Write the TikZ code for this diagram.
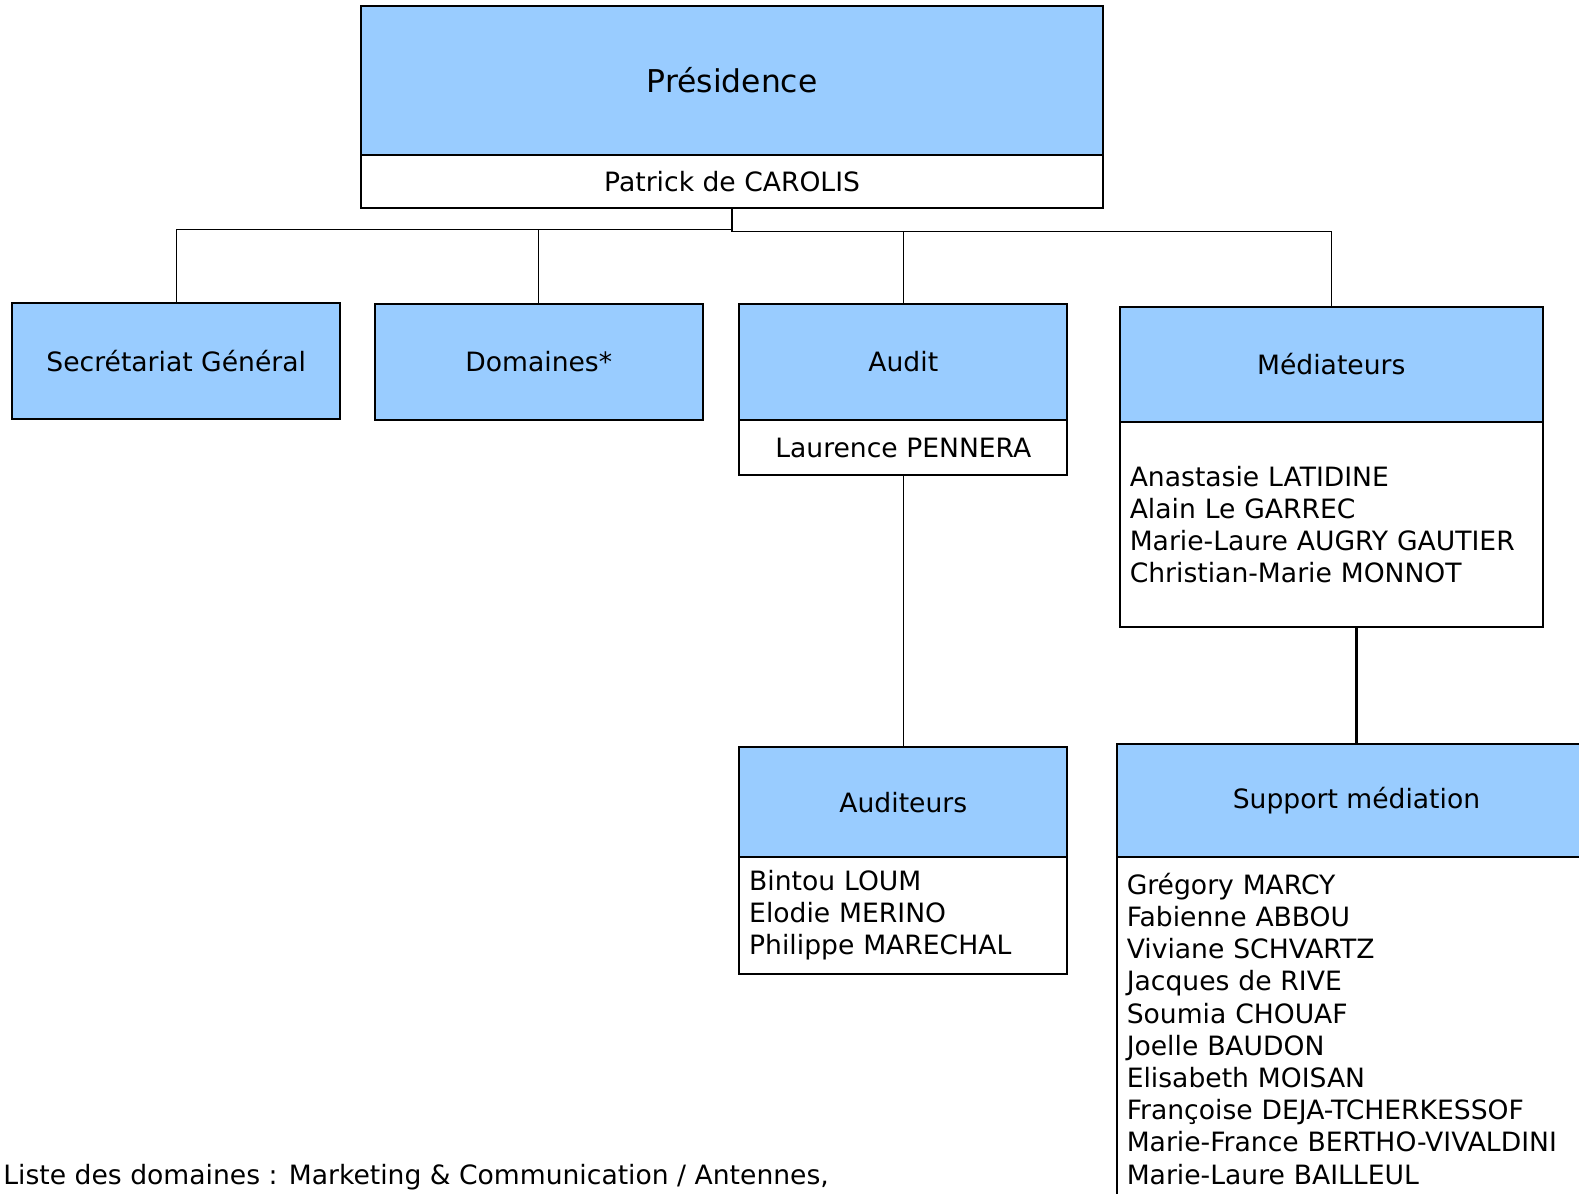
\documentclass[tikz,border=0pt]{standalone}
\usepackage{fontspec}
\setmainfont{DejaVu Sans}
\usepackage{tikz}
\usetikzlibrary{positioning}
\definecolor{unitblue}{HTML}{99CCFF}
\tikzset{
  unit/.style={draw,line width=1pt,fill=unitblue,outer sep=0pt,inner sep=5pt},
  names/.style={draw,line width=1pt,fill=white,outer sep=0pt,inner sep=5pt},
  link/.style={line width=0.6pt},
}

\begin{document}
\begin{tikzpicture}[x=0.5035pt,y=-0.5035pt,font=\fontsize{13.3}{16.1}\selectfont]
        \useasboundingbox (0,0) rectangle (1568,1185);
        \clip (0,0) rectangle (1568,1185);

        % top
        \node[unit,minimum width=370.6pt,minimum height=74.5pt,font=\fontsize{15.7}{19}\selectfont] (P) at (727,80) {Présidence};
        \node[names,minimum width=370.6pt,minimum height=26.7pt,below=0pt of P] (PN) {Patrick de CAROLIS};

        % second row
        \node[unit,minimum width=164.1pt,minimum height=57.9pt] (SG) at (175,358.5) {Secrétariat Général};
        \node[unit,minimum width=164.1pt,minimum height=57.9pt] (D) at (535,359.5) {Domaines*};
        \node[unit,minimum width=164.1pt,minimum height=57.9pt] (A) at (897,359.5) {Audit};
        \node[names,minimum width=164.1pt,minimum height=27.7pt,below=0pt of A] (AN) {Laurence PENNERA};
        \node[unit,minimum width=211.5pt,minimum height=57.4pt] (M) at (1322,362) {Médiateurs};
        \node[names,minimum width=211.5pt,minimum height=102.7pt,text width=201.5pt,align=left,below=0pt of M] (MN)
          {Anastasie LATIDINE\\Alain Le GARREC\\Marie-Laure AUGRY GAUTIER\\Christian-Marie MONNOT};

        % third row
        \node[unit,minimum width=164.1pt,minimum height=54.9pt] (AU) at (897,796.5) {Auditeurs};
        \node[names,minimum width=164.1pt,minimum height=58.4pt,text width=154.1pt,align=left,below=0pt of AU] (AUN)
          {Bintou LOUM\\Elodie MERINO\\Philippe MARECHAL};
        \node[unit,minimum width=239.7pt,minimum height=56.4pt] (SM) at (1347,795) {Support médiation};
        \node[names,minimum width=239.7pt,minimum height=171.7pt,text width=229.7pt,align=left,below=0pt of SM] (SMN)
          {Grégory MARCY\\Fabienne ABBOU\\Viviane SCHVARTZ\\Jacques de RIVE\\Soumia CHOUAF\\Joelle BAUDON\\Elisabeth MOISAN\\Françoise DEJA-TCHERKESSOF\\Marie-France BERTHO-VIVALDINI\\Marie-Laure BAILLEUL};

        % footnote
        \node[anchor=base west,inner sep=0pt] (L) at (3,1176) {Liste des domaines : Marketing \& Communication / Antennes,};

        % links
        \coordinate (busL) at (727,228);
        \coordinate (busR) at (727,230);
        \draw[link,line width=1pt] (PN.south) -- (busR);
        \draw[link] (SG.north) |- (busL);
        \draw[link] (D.north) |- (busL);
        \draw[link] (A.north) |- (busR);
        \draw[link] (M.north) |- (busR);
        \draw[link] (AN.south) -- (AU.north);
        \draw[link,line width=1.5pt] (MN.south -| SM.north) -- (SM.north);
    \end{tikzpicture}
\end{document}
